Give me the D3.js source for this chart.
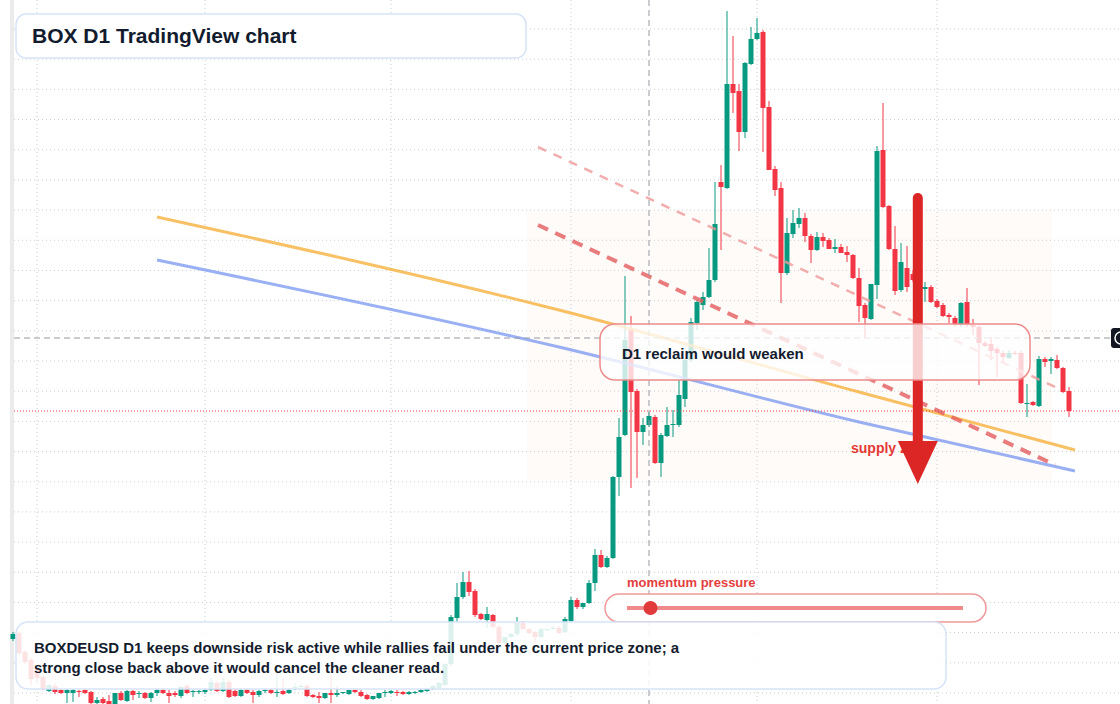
<!DOCTYPE html>
<html>
<head>
<meta charset="utf-8">
<script src="https://cdn.jsdelivr.net/npm/d3@7"></script>
<style>
html, body { margin: 0; padding: 0; background: #fff; overflow: hidden; }
svg { display: block; font-family: "Liberation Sans", Arial, sans-serif; }
</style>
</head>
<body>
<div id="chart"></div>
<script>
//Canvas size
var width = 1120,
    height = 704;

// daily candles (BOXDEUSD D1)
var openPrices = [1.54,1.60,1.41,1.33,1.25,1.16,1.02,1.07,1.03,1.00,
  1.00,1.02,1.03,1.01,0.90,0.94,0.92,0.89,1.00,0.92,
  1.02,0.99,1.00,0.95,1.00,1.03,1.00,1.00,0.97,1.07,
  1.01,1.01,1.01,1.03,1.10,1.02,1.11,1.02,0.97,1.03,
  1.01,0.98,1.02,1.03,1.00,1.02,1.00,1.05,1.06,1.07,
  0.98,0.97,0.95,1.00,0.98,1.00,0.99,1.03,1.01,0.98,
  0.94,0.95,1.00,1.00,1.01,1.01,0.99,1.00,1.01,1.02,
  1.04,1.05,1.08,1.29,1.75,1.96,2.11,2.02,1.79,1.73,
  1.78,1.66,1.50,1.56,1.59,1.70,1.64,1.61,1.56,1.63,
  1.64,1.65,1.61,1.72,1.93,1.86,1.90,2.10,2.38,2.26,
  2.35,3.16,3.58,4.63,4.02,3.61,3.68,3.76,3.30,3.57,
  3.68,3.68,3.94,4.33,4.70,4.88,4.96,5.13,6.11,6.05,
  7.09,7.02,6.61,7.29,7.54,7.61,6.86,6.24,6.05,5.20,
  5.59,5.69,5.75,5.57,5.43,5.56,5.53,5.44,5.46,5.41,
  5.38,5.15,4.88,4.74,5.08,6.43,5.87,5.44,5.03,5.25,
  5.19,5.13,5.04,5.06,4.92,4.88,4.78,4.75,4.68,4.91,
  4.68,4.66,4.50,4.49,4.44,4.40,4.35,4.40,4.40,3.89,
  3.91,3.87,4.34,4.32,4.33,4.25,4.02];

var highPrices = [1.61,1.62,1.43,1.35,1.27,1.18,1.09,1.10,1.04,1.04,
  1.04,1.03,1.04,1.02,0.96,0.96,0.98,1.00,1.02,1.03,
  1.03,1.02,1.01,1.01,1.04,1.04,1.03,1.02,1.07,1.09,
  1.03,1.03,1.04,1.15,1.12,1.15,1.13,1.04,1.04,1.04,
  1.03,1.03,1.04,1.04,1.20,1.14,1.05,1.10,1.09,1.09,
  0.99,1.01,1.00,1.18,1.07,1.01,1.03,1.04,1.03,0.99,
  0.97,1.00,1.03,1.03,1.03,1.02,1.02,1.02,1.04,1.05,
  1.08,1.11,1.30,1.78,2.10,2.21,2.22,2.04,1.80,1.86,
  1.79,1.68,1.56,1.60,1.76,1.72,1.65,1.62,1.65,1.64,
  1.67,1.67,1.76,1.96,1.95,1.90,2.13,2.44,2.43,2.37,
  3.17,3.75,5.17,4.77,4.04,3.75,3.81,3.78,3.60,3.86,
  3.83,4.13,4.35,4.75,4.93,5.01,5.45,6.11,6.28,7.82,
  7.57,7.09,7.31,7.66,7.75,7.63,6.92,6.27,6.11,5.75,
  5.83,5.85,5.80,5.59,5.61,5.60,5.55,5.54,5.49,5.47,
  5.39,5.25,4.90,5.09,6.47,6.90,5.88,5.67,5.50,5.47,
  5.23,5.17,5.11,5.08,4.94,4.90,4.80,4.77,4.91,5.05,
  4.74,4.68,4.52,4.56,4.46,4.42,4.43,4.42,4.42,4.09,
  3.92,4.37,4.36,4.36,4.38,4.26,4.06];

var lowPrices = [1.52,1.38,1.29,1.08,1.10,1.03,1.01,0.99,0.99,0.90,
  0.91,0.96,0.99,0.89,0.89,0.89,0.89,0.88,0.92,0.91,
  0.93,0.95,0.94,0.91,0.97,0.99,0.90,0.96,0.95,0.99,
  0.96,0.99,0.99,1.02,1.01,1.01,0.95,0.96,0.96,0.99,
  0.90,0.96,1.00,0.99,0.96,0.98,0.99,1.03,1.05,0.96,
  0.95,0.90,0.94,0.90,0.96,0.99,0.98,1.00,0.96,0.93,
  0.93,0.94,0.96,0.99,0.97,0.98,0.98,0.99,1.00,1.01,
  1.03,1.04,1.07,1.27,1.71,1.94,1.97,1.76,1.73,1.65,
  1.65,1.48,1.48,1.55,1.57,1.63,1.59,1.50,1.55,1.62,
  1.63,1.59,1.60,1.71,1.84,1.84,1.89,2.02,2.25,2.25,
  2.34,2.97,3.57,3.05,3.15,3.48,3.66,3.29,3.16,3.56,
  3.56,3.66,3.86,4.31,4.63,4.83,4.95,5.11,5.43,6.04,
  6.80,6.42,6.55,7.28,7.53,6.41,6.23,5.97,4.90,5.18,
  5.55,5.65,5.51,5.30,5.42,5.46,5.44,5.40,5.40,5.31,
  5.14,4.71,4.55,4.73,4.94,5.85,5.43,4.98,5.01,5.01,
  5.11,5.03,4.91,4.90,4.85,4.76,4.70,4.66,4.66,4.66,
  4.58,4.08,4.46,4.33,4.16,4.30,4.34,4.38,3.89,3.76,
  3.87,3.86,4.26,4.19,4.24,4.00,3.76];

var closePrices = [1.59,1.40,1.31,1.14,1.15,1.04,1.08,1.01,1.00,1.03,
  1.03,1.01,1.00,0.90,0.93,0.90,0.89,1.00,0.93,1.02,
  0.98,1.00,0.95,1.00,1.03,1.00,0.97,0.98,1.06,1.00,
  1.02,1.02,1.03,1.11,1.02,1.11,0.96,0.97,1.03,1.00,
  0.98,1.02,1.03,1.00,1.01,0.99,1.03,1.06,1.07,0.97,
  0.96,0.95,1.00,0.98,1.00,1.01,1.03,1.01,0.97,0.94,
  0.97,1.00,1.01,1.02,1.00,0.99,1.01,1.01,1.03,1.04,
  1.07,1.10,1.29,1.76,1.96,2.11,2.01,1.78,1.74,1.79,
  1.66,1.50,1.56,1.59,1.70,1.64,1.60,1.56,1.64,1.64,
  1.65,1.60,1.74,1.93,1.86,1.90,2.10,2.38,2.26,2.35,
  3.16,3.56,4.53,4.01,3.61,3.68,3.77,3.30,3.58,3.68,
  3.69,3.98,4.33,4.71,4.91,4.96,5.13,5.69,6.06,7.09,
  7.00,6.61,7.30,7.54,7.60,6.85,6.23,6.03,5.20,5.60,
  5.70,5.75,5.57,5.43,5.56,5.52,5.44,5.46,5.40,5.38,
  5.15,4.87,4.75,5.09,6.42,5.86,5.44,5.02,5.31,5.06,
  5.13,5.06,5.06,4.91,4.86,4.77,4.76,4.68,4.90,4.68,
  4.66,4.50,4.47,4.42,4.40,4.36,4.40,4.39,3.90,3.90,
  3.88,4.34,4.31,4.34,4.25,4.01,3.82];

// candle index where each month starts (vertical grid)
var monthStartIdx = [4, 32, 63, 93, 124, 154];
// horizontal grid spacing in price
var gridStep = 0.3018,
    gridCount = 23;

// crosshair and last price
var crossIdx = 106,
    crossPrice = 4.55,
    lastPrice = 3.82;

// drawings: [candle index, price]
var orangeCurve = [[24, 5.76], [91, 4.83], [141, 4.01], [177, 3.43]];
var blueCurve = [[24, 5.33], [91, 4.46], [141, 3.71], [177, 3.22]];
var redDashLine = [[87.5, 5.68], [173.7, 3.28]];
var pinkDashLine = [[87.5, 6.46], [173.7, 4.06]];
var zoneIdx = [85.7, 173.2],
    zonePrice = [3.13, 5.83];
var arrowIdx = 150.8,
    arrowPrices = [5.95, 3.52, 3.09]; // top, head base, tip

// texts
var titleText = "BOX D1 TradingView chart";
var noteText = "D1 reclaim would weaken";
var zoneText = "supply zone";
var meterText = "momentum pressure";
var meterValue = 0.07;
var summaryLines = ["BOXDEUSD D1 keeps downside risk active while rallies fail under the current price zone; a",
                    "strong close back above it would cancel the cleaner read."];

var up = "#089981",
    down = "#f23645",
    ink = "#131c2e";

var svg = d3.select("#chart")
    .append("svg")
    .attr("width", width)
    .attr("height", height);

var x = d3.scaleLinear().domain([0, 176]).range([13, 1069]);
var y = d3.scaleLinear().domain([1.00, 7.64]).range([693, 29]);

svg.append("rect").attr("width", width).attr("height", height).attr("fill", "#fff");

// supply zone shading
svg.append("rect")
    .attr("x", x(zoneIdx[0]))
    .attr("y", y(zonePrice[1]))
    .attr("width", x(zoneIdx[1]) - x(zoneIdx[0]))
    .attr("height", y(zonePrice[0]) - y(zonePrice[1]))
    .attr("fill", "#e8955a")
    .attr("fill-opacity", 0.035);

// grid
var gridPrices = d3.range(gridCount).map(function(k) { return 1 + k * gridStep; });
svg.selectAll(".hgrid")
    .data(gridPrices)
    .enter().append("line")
    .attr("class", "hgrid")
    .attr("x1", 14).attr("x2", width)
    .attr("y1", function(d) { return y(d); })
    .attr("y2", function(d) { return y(d); })
    .attr("stroke", "#c9ccd1")
    .attr("stroke-dasharray", "1,3");

svg.selectAll(".vgrid")
    .data(monthStartIdx)
    .enter().append("line")
    .attr("class", "vgrid")
    .attr("x1", function(d) { return x(d); })
    .attr("x2", function(d) { return x(d); })
    .attr("y1", 0).attr("y2", height)
    .attr("stroke", "#c9ccd1")
    .attr("stroke-dasharray", "1,3");

// left border
svg.append("rect").attr("x", 10).attr("y", 0).attr("width", 4).attr("height", height).attr("fill", "#ebebeb");

// candles
var candles = d3.range(openPrices.length).map(function(i) {
    return {i: i, o: openPrices[i], h: highPrices[i], l: lowPrices[i], c: closePrices[i]};
});

var candle = svg.selectAll(".candle")
    .data(candles)
    .enter().append("g")
    .attr("class", "candle")
    .attr("fill", function(d) { return d.c >= d.o ? up : down; })
    .attr("stroke", function(d) { return d.c >= d.o ? up : down; });

candle.append("line")
    .attr("x1", function(d) { return x(d.i); })
    .attr("x2", function(d) { return x(d.i); })
    .attr("y1", function(d) { return y(d.h); })
    .attr("y2", function(d) { return y(d.l); })
    .attr("stroke-width", 1);

candle.append("rect")
    .attr("x", function(d) { return x(d.i) - 2.5; })
    .attr("width", 5)
    .attr("y", function(d) { return y(Math.max(d.o, d.c)); })
    .attr("height", function(d) { return Math.max(1, Math.abs(y(d.o) - y(d.c))); })
    .attr("stroke", "none");

// drawings
var curve = d3.line()
    .x(function(d) { return x(d[0]); })
    .y(function(d) { return y(d[1]); })
    .curve(d3.curveMonotoneX);

svg.append("path").datum(orangeCurve)
    .attr("d", curve).attr("fill", "none")
    .attr("stroke", "#f5a623").attr("stroke-opacity", 0.7).attr("stroke-width", 3);

svg.append("path").datum(blueCurve)
    .attr("d", curve).attr("fill", "none")
    .attr("stroke", "#6d8ff0").attr("stroke-opacity", 0.7).attr("stroke-width", 3);

svg.append("path").datum(pinkDashLine)
    .attr("d", curve).attr("fill", "none")
    .attr("stroke", "#ef9a9a").attr("stroke-opacity", 0.8).attr("stroke-width", 2.5)
    .attr("stroke-dasharray", "9,8");

svg.append("path").datum(redDashLine)
    .attr("d", curve).attr("fill", "none")
    .attr("stroke", "#e35d5d").attr("stroke-opacity", 0.8).attr("stroke-width", 4)
    .attr("stroke-dasharray", "11,8");

// crosshair
svg.append("line")
    .attr("x1", x(crossIdx)).attr("x2", x(crossIdx))
    .attr("y1", 0).attr("y2", height)
    .attr("stroke", "#9598a1").attr("stroke-dasharray", "6,4");

svg.append("line")
    .attr("x1", 14).attr("x2", 1112)
    .attr("y1", y(crossPrice)).attr("y2", y(crossPrice))
    .attr("stroke", "#9598a1").attr("stroke-dasharray", "6,4");

// last price line
svg.append("line")
    .attr("x1", 14).attr("x2", width)
    .attr("y1", y(lastPrice)).attr("y2", y(lastPrice))
    .attr("stroke", down).attr("stroke-dasharray", "1,2");

// supply zone label and arrow
svg.append("text")
    .attr("x", 851).attr("y", 453)
    .attr("font-size", "14px").attr("font-weight", "bold")
    .attr("fill", "#e53935")
    .text(zoneText);

var ax = x(arrowIdx);
svg.append("line")
    .attr("x1", ax).attr("x2", ax)
    .attr("y1", y(arrowPrices[0])).attr("y2", y(arrowPrices[1]) + 2)
    .attr("stroke", "#dc2626").attr("stroke-width", 10).attr("stroke-linecap", "round");

svg.append("path")
    .attr("d", "M" + (ax - 20) + "," + y(arrowPrices[1]) +
               "L" + (ax + 20) + "," + y(arrowPrices[1]) +
               "L" + ax + "," + y(arrowPrices[2]) + "Z")
    .attr("fill", "#dc2626");

// annotation boxes
function box(x0, y0, w, h, r, stroke, opacity) {
    return svg.append("rect")
        .attr("x", x0).attr("y", y0)
        .attr("width", w).attr("height", h)
        .attr("rx", r).attr("ry", r)
        .attr("fill", "#fff").attr("fill-opacity", opacity)
        .attr("stroke", stroke).attr("stroke-width", 1.5);
}

box(600, 324, 430, 56, 15, "#ec8c8c", 0.78);
svg.append("text")
    .attr("x", 622).attr("y", 359)
    .attr("font-size", "15px").attr("font-weight", "bold")
    .attr("fill", ink)
    .text(noteText);

box(16, 14, 510, 44, 10, "#d6e3f7", 0.92);
svg.append("text")
    .attr("x", 32).attr("y", 43)
    .attr("font-size", "21px").attr("font-weight", "bold")
    .attr("fill", ink)
    .text(titleText);

// momentum meter
var meter = d3.scaleLinear().domain([0, 1]).range([627, 963]);
box(605, 594, 381, 28, 14, "#ef9a9a", 0.85);
svg.append("line")
    .attr("x1", meter(0)).attr("x2", meter(1))
    .attr("y1", 608).attr("y2", 608)
    .attr("stroke", "#ee7d7d").attr("stroke-opacity", 0.9).attr("stroke-width", 4);
svg.append("circle")
    .attr("cx", meter(meterValue)).attr("cy", 608).attr("r", 7)
    .attr("fill", "#e03a3a");
svg.append("text")
    .attr("x", 627).attr("y", 587)
    .attr("font-size", "13px").attr("font-weight", "bold")
    .attr("fill", "#e53e3e")
    .text(meterText);

box(16, 622, 930, 67, 12, "#d6e3f7", 0.86);
svg.selectAll(".summary")
    .data(summaryLines)
    .enter().append("text")
    .attr("class", "summary")
    .attr("x", 34)
    .attr("y", function(d, i) { return 653 + i * 20; })
    .attr("font-size", "15px").attr("font-weight", "bold")
    .attr("fill", ink)
    .text(function(d) { return d; });

// price scale marker at the right edge
svg.append("rect")
    .attr("x", 1111).attr("y", y(crossPrice) - 10)
    .attr("width", 24).attr("height", 20).attr("rx", 3)
    .attr("fill", "#131722");
svg.append("circle")
    .attr("cx", 1121).attr("cy", y(crossPrice)).attr("r", 6)
    .attr("fill", "none").attr("stroke", "#fff").attr("stroke-width", 1.5);
</script>
</body>
</html>
